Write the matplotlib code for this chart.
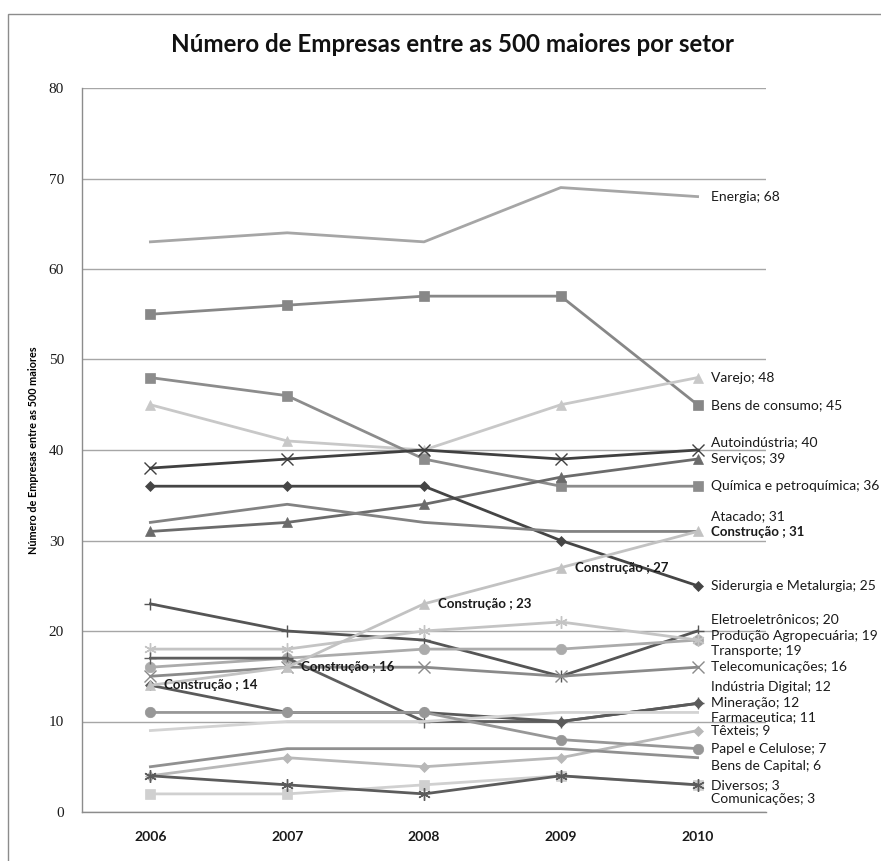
import numpy as np
import matplotlib
matplotlib.use("Agg")
import matplotlib.pyplot as plt
from matplotlib.patches import Rectangle

# ── data ─────────────────────────────────────────────────────────────────────

YEARS = ["2006", "2007", "2008", "2009", "2010"]

SECTORS = [
    "Energia", "Bens de consumo", "Varejo", "Química e petroquímica",
    "Autoindústria", "Serviços", "Siderurgia e Metalurgia", "Atacado",
    "Eletroeletrônicos", "Produção Agropecuária", "Transporte",
    "Telecomunicações", "Indústria Digital", "Mineração", "Farmaceutica",
    "Têxteis", "Papel e Celulose", "Bens de Capital", "Diversos",
    "Comunicações", "Construção",
]

energia       = [63, 64, 63, 69, 68]
bens_consumo  = [55, 56, 57, 57, 45]
varejo        = [45, 41, 40, 45, 48]
quimica       = [48, 46, 39, 36, 36]
autoindustria = [38, 39, 40, 39, 40]
servicos      = [31, 32, 34, 37, 39]
siderurgia    = [36, 36, 36, 30, 25]
atacado       = [32, 34, 32, 31, 31]
eletro        = [23, 20, 19, 15, 20]
agropecuaria  = [16, 17, 18, 18, 19]
transporte    = [18, 18, 20, 21, 19]
telecom       = [15, 16, 16, 15, 16]
ind_digital   = [17, 17, 10, 10, 12]
mineracao     = [14, 11, 11, 10, 12]
farmaceutica  = [9, 10, 10, 11, 11]
texteis       = [4, 6, 5, 6, 9]
papel         = [11, 11, 11, 8, 7]
bens_capital  = [5, 7, 7, 7, 6]
diversos      = [2, 2, 3, 4, 3]
comunicacoes  = [4, 3, 2, 4, 3]
construcao    = [14, 16, 23, 27, 31]

VALUES = [
    energia, bens_consumo, varejo, quimica, autoindustria, servicos,
    siderurgia, atacado, eletro, agropecuaria, transporte, telecom,
    ind_digital, mineracao, farmaceutica, texteis, papel, bens_capital,
    diversos, comunicacoes, construcao,
]

# ── styles (colour, marker, marker size) ─────────────────────────────────────

ASTER = (6, 2, 0)
STYLES = {
    "Energia":                 ("#a6a6a6", None, 0),
    "Bens de consumo":         ("#878787", "s", 7.5),
    "Varejo":                  ("#c8c8c8", "^", 7),
    "Química e petroquímica":  ("#8c8c8c", "s", 7.5),
    "Autoindústria":           ("#404040", "x", 8),
    "Serviços":                ("#6b6b6b", "^", 7),
    "Siderurgia e Metalurgia": ("#454545", "D", 5.5),
    "Atacado":                 ("#828282", None, 0),
    "Eletroeletrônicos":       ("#555555", "+", 9),
    "Produção Agropecuária":   ("#ababab", "o", 7.5),
    "Transporte":              ("#c4c4c4", ASTER, 9),
    "Telecomunicações":        ("#8a8a8a", "x", 8),
    "Indústria Digital":       ("#5e5e5e", "+", 9),
    "Mineração":               ("#5a5a5a", "D", 5.5),
    "Farmaceutica":            ("#d3d3d3", None, 0),
    "Têxteis":                 ("#b8b8b8", "D", 5.5),
    "Papel e Celulose":        ("#979797", "o", 7.5),
    "Bens de Capital":         ("#909090", None, 0),
    "Diversos":                ("#d0d0d0", "s", 7.5),
    "Comunicações":            ("#5c5c5c", ASTER, 9),
    "Construção":              ("#c2c2c2", "^", 7),
}

# vertical nudges for the end labels so they don't pile up
LABEL_NUDGE = {
    "Autoindústria": 0.9, "Atacado": 1.7, "Construção": -0.1,
    "Eletroeletrônicos": 1.3, "Produção Agropecuária": 0.4,
    "Transporte": -1.2, "Indústria Digital": 1.8, "Farmaceutica": -0.5,
    "Bens de Capital": -0.9, "Comunicações": -1.6,
}

W, H = 881, 861
fig = plt.figure(figsize=(W / 100, H / 100), dpi=100, facecolor="white")
ax = fig.add_axes([82 / W, 1 - 812 / H, (766 - 82) / W, (812 - 88) / H])

x = np.arange(len(YEARS))
for name, vals in zip(SECTORS, VALUES):
    color, marker, ms = STYLES[name]
    ax.plot(x, vals, color=color, lw=2.0, marker=marker, markersize=ms,
            markerfacecolor=color, markeredgecolor=color,
            markeredgewidth=1.0 if marker in ("x", "+", ASTER) else 0.5,
            zorder=3, clip_on=False)

# end-of-line labels
for name, vals in zip(SECTORS, VALUES):
    y = vals[-1] + LABEL_NUDGE.get(name, 0)
    sep = " ; " if name == "Construção" else "; "
    bold = name == "Construção"
    ax.annotate(f"{name}{sep}{vals[-1]}", xy=(x[-1], y), xytext=(10, 0),
                textcoords="offset points", va="center", ha="left",
                fontsize=9.5 if bold else 10, family="Lato",
                fontweight="bold" if bold else "normal",
                color="#1a1a1a", annotation_clip=False)

# Construção has a label at every year
for xi, v in zip(x[:-1], construcao[:-1]):
    ax.annotate(f"Construção ; {v}", xy=(xi, v), xytext=(10, 0),
                textcoords="offset points", va="center", ha="left",
                fontsize=9.5, family="Lato", fontweight="bold",
                color="#1a1a1a")

ax.set_xlim(-0.5, len(YEARS) - 0.5)
ax.set_ylim(0, 80)
ax.set_yticks(np.arange(0, 81, 10))
ax.set_xticks(x)
ax.set_xticklabels(YEARS)
ax.tick_params(length=0, colors="#1a1a1a")
ax.tick_params(axis="x", pad=14, labelsize=10)
ax.tick_params(axis="y", pad=13, labelsize=11)
for lbl in ax.get_xticklabels():
    lbl.set_fontweight("bold")
    lbl.set_family("Lato")
for lbl in ax.get_yticklabels():
    lbl.set_family("Liberation Serif")
ax.yaxis.grid(True, color="#a6a6a6", lw=1.0)
ax.set_axisbelow(True)
for side in ("top", "right"):
    ax.spines[side].set_visible(False)
for side in ("left", "bottom"):
    ax.spines[side].set_color("#8c8c8c")
    ax.spines[side].set_linewidth(1.0)

ax.set_ylabel("Número de Empresas entre as 500 maiores", fontsize=7.8,
              fontweight="bold", family="Lato", labelpad=7)

fig.text(452 / W, 1 - 45 / H, "Número de Empresas entre as 500 maiores por setor",
         ha="center", va="center", fontsize=17.4, fontweight="bold",
         family="Lato", color="#111111")

# chart frame
fig.patches.append(Rectangle((8 / W, -0.1), 1.2, 1 - 14 / H + 0.1,
                             transform=fig.transFigure, fill=False,
                             edgecolor="#8c8c8c", lw=1.0))

fig.savefig("out.png", dpi=100, facecolor="white")
